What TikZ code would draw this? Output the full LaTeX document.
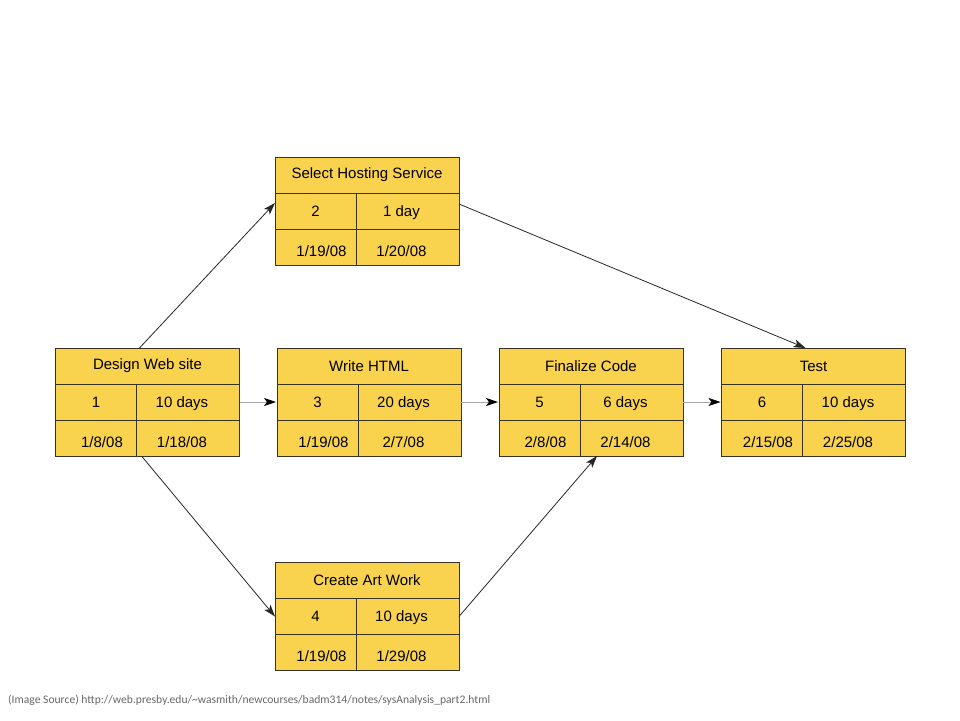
\documentclass[tikz,border=0pt]{standalone}
\usepackage{fontspec}
\setmainfont{Liberation Sans}
\newfontfamily\srcfont{Carlito}
\usetikzlibrary{positioning,arrows.meta}
\definecolor{boxfill}{HTML}{F9D24E}
\definecolor{boxline}{HTML}{3A3222}
\begin{document}
\begin{tikzpicture}[x=1pt,y=-1pt,
  cell/.style={rectangle,draw=boxline,fill=boxfill,line width=1pt,outer sep=0pt,inner sep=0pt,minimum height=36pt,font=\fontsize{15}{17}\selectfont},
  hd/.style={cell,minimum width=184pt},
  ca/.style={cell,minimum width=81pt,text height=11pt,text depth=0.5pt},
  cb/.style={ca,minimum width=103pt,execute at end node=\hspace*{12pt}},
  ba/.style={cell,minimum width=81pt,text height=18.5pt,text depth=0.5pt,execute at begin node=\hspace*{12pt}},
  bb/.style={cell,minimum width=103pt,text height=18.5pt,text depth=0.5pt,execute at end node=\hspace*{12pt}},
  ar/.style={-{Stealth[length=12pt,width=8pt,inset=3pt]},draw=black!85,line width=0.8pt},
  ag/.style={-{Stealth[length=12pt,width=8pt,inset=3pt,black]},draw=black!35,line width=0.8pt}]
  \useasboundingbox (0,0) rectangle (960,720);

  \node[hd] (design) at (147.5,366) {Design Web site};
  \node[ca,below right=0pt of design.south west] (d1) {1};
  \node[cb,right=0pt of d1] (d2) {10 days};
  \node[ba,below=0pt of d1] (d3) {1/8/08};
  \node[bb,below=0pt of d2] (d4) {1/18/08};

  \node[hd] (hosting) at (367,175) {Select Hosting Service};
  \node[ca,below right=0pt of hosting.south west] (h1) {2};
  \node[cb,right=0pt of h1] (h2) {1 day};
  \node[ba,below=0pt of h1] (h3) {1/19/08};
  \node[bb,below=0pt of h2] (h4) {1/20/08};

  \node[hd] (write) at (369,366) {Write HTML};
  \node[ca,below right=0pt of write.south west] (w1) {3};
  \node[cb,right=0pt of w1] (w2) {20 days};
  \node[ba,below=0pt of w1] (w3) {1/19/08};
  \node[bb,below=0pt of w2] (w4) {2/7/08};

  \node[hd] (final) at (591,366) {Finalize Code};
  \node[ca,below right=0pt of final.south west] (f1) {5};
  \node[cb,right=0pt of f1] (f2) {6 days};
  \node[ba,below=0pt of f1] (f3) {2/8/08};
  \node[bb,below=0pt of f2] (f4) {2/14/08};

  \node[hd] (test) at (813.5,366) {Test};
  \node[ca,below right=0pt of test.south west] (t1) {6};
  \node[cb,right=0pt of t1] (t2) {10 days};
  \node[ba,below=0pt of t1] (t3) {2/15/08};
  \node[bb,below=0pt of t2] (t4) {2/25/08};

  \node[hd] (art) at (367,580.5) {Create Art Work};
  \node[ca,below right=0pt of art.south west] (a1) {4};
  \node[cb,right=0pt of a1] (a2) {10 days};
  \node[ba,below=0pt of a1] (a3) {1/19/08};
  \node[bb,below=0pt of a2] (a4) {1/29/08};

  \draw[ar] ([xshift=-8pt]design.north) -- ([yshift=8pt]h1.west);
  \draw[ag] (d2.east) -- ([xshift=-1pt]w1.west);
  \draw[ar] ([xshift=5pt]d3.south east) -- (a1.west);
  \draw[ar] ([yshift=7pt]h2.east) -- ([xshift=-8pt]test.north);
  \draw[ag] (w2.east) -- ([xshift=-1pt]f1.west);
  \draw[ar] (a2.east) -- ([xshift=17pt]f4.south west);
  \draw[ag] (f2.east) -- ([xshift=-1pt]t1.west);

  \node[anchor=west,inner sep=0pt,text=black!60,font=\srcfont\fontsize{11.6}{13}\selectfont] (src) at (8,700) {(Image Source) http://web.presby.edu/\textasciitilde wasmith/newcourses/badm314/notes/sysAnalysis\_part2.html};
\end{tikzpicture}
\end{document}
